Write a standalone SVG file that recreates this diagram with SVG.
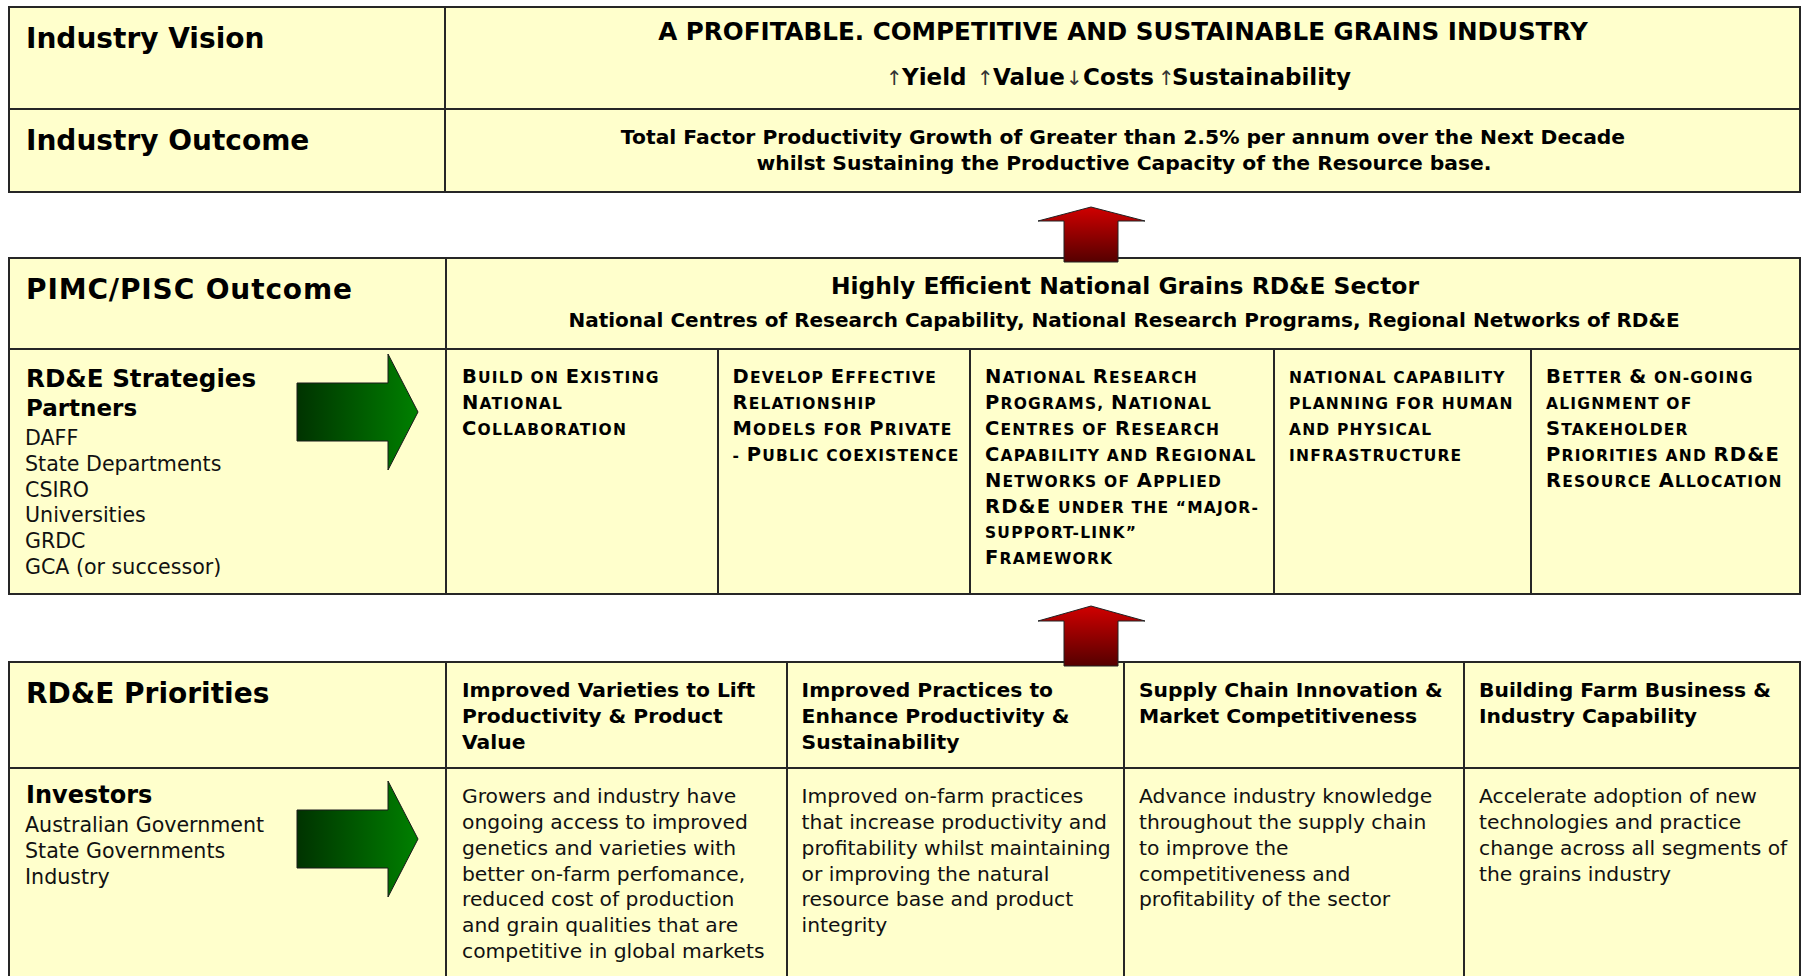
<svg xmlns="http://www.w3.org/2000/svg" width="1806" height="976" viewBox="0 0 1806 976">
<defs>
<linearGradient id="gGreen" x1="0" y1="0" x2="1" y2="0">
<stop offset="0" stop-color="#003300"/>
<stop offset="1" stop-color="#008000"/>
</linearGradient>
<linearGradient id="gRed" x1="0" y1="0" x2="0" y2="1">
<stop offset="0" stop-color="#d00000"/>
<stop offset="1" stop-color="#550000"/>
</linearGradient>
<style>
.cell{fill:#FFFFCC;stroke:#262626;stroke-width:2}
.hd{font-family:"DejaVu Sans",Verdana,sans-serif;font-weight:bold;font-size:28px;fill:#000}
.sub{font-family:"DejaVu Sans",Verdana,sans-serif;font-weight:bold;font-size:24px;fill:#000}
.lst{font-family:"DejaVu Sans",Verdana,sans-serif;font-size:20.6px;fill:#111}
.t{font-family:"DejaVu Sans",Verdana,sans-serif;font-size:20.3px;fill:#111}
.tb{font-family:"DejaVu Sans",Verdana,sans-serif;font-weight:bold;font-size:20.3px;fill:#000}
.ttl{font-family:"DejaVu Sans",Verdana,sans-serif;font-weight:bold;fill:#000;text-anchor:middle}
.kpi{font-family:"DejaVu Sans",Verdana,sans-serif;font-weight:bold;font-size:23px;fill:#000}
.st{font-family:"DejaVu Sans",Verdana,sans-serif;font-weight:bold;font-size:15.5px;letter-spacing:1.2px;fill:#000}
.bc{font-size:19.5px}
.arw{font-weight:normal;font-size:20px;fill:#333}
.gArrow{fill:url(#gGreen);stroke:#1a1a1a;stroke-width:1}
.rArrow{fill:url(#gRed);stroke:#222;stroke-width:1}
</style>
</defs>
<rect x="0" y="0" width="1806" height="976" fill="#ffffff"/>

<!-- Top table -->
<g id="industry-vision-label">
<rect class="cell" x="9" y="7" width="436" height="102"/>
<text class="hd" x="26" y="48">Industry Vision</text>
</g>
<g id="industry-vision">
<rect class="cell" x="445" y="7" width="1355" height="102"/>
<text class="ttl" x="1123" y="40" font-size="24.6">A PROFITABLE. COMPETITIVE AND SUSTAINABLE GRAINS INDUSTRY</text>
<text class="kpi" y="85"><tspan class="arw" x="886">↑</tspan><tspan x="902">Yield</tspan><tspan class="arw" x="977">↑</tspan><tspan x="993">Value</tspan><tspan class="arw" x="1066">↓</tspan><tspan x="1083">Costs</tspan><tspan class="arw" x="1158">↑</tspan><tspan x="1172">Sustainability</tspan></text>
</g>
<g id="industry-outcome-label">
<rect class="cell" x="9" y="109" width="436" height="83"/>
<text class="hd" x="26" y="150">Industry Outcome</text>
</g>
<g id="industry-outcome">
<rect class="cell" x="445" y="109" width="1355" height="83"/>
<text class="ttl" x="1123" y="144" font-size="20.3">Total Factor Productivity Growth of Greater than 2.5% per annum over the Next Decade</text>
<text class="ttl" x="1124" y="169.5" font-size="20.3">whilst Sustaining the Productive Capacity of the Resource base.</text>
</g>

<!-- Middle table -->
<g id="pimc-label">
<rect class="cell" x="9" y="258" width="437" height="91"/>
<text class="hd" x="26" y="299" textLength="326" lengthAdjust="spacing">PIMC/PISC Outcome</text>
</g>
<g id="pimc-outcome">
<rect class="cell" x="446" y="258" width="1354" height="91"/>
<text class="ttl" x="1125" y="293.5" font-size="23.4">Highly Efficient National Grains RD&amp;E Sector</text>
<text class="ttl" x="1124" y="327" font-size="20">National Centres of Research Capability, National Research Programs, Regional Networks of RD&amp;E</text>
</g>
<g id="strategies-label">
<rect class="cell" x="9" y="349" width="437" height="245"/>
<text class="sub" x="26" y="387" style="font-size:24.6px">RD&amp;E Strategies</text>
<text class="sub" x="26" y="415.5" style="font-size:23px">Partners</text>
<text class="lst" x="25"><tspan x="25" y="445">DAFF</tspan><tspan x="25" y="470.8">State Departments</tspan><tspan x="25" y="496.6">CSIRO</tspan><tspan x="25" y="522.4">Universities</tspan><tspan x="25" y="548.2">GRDC</tspan><tspan x="25" y="574">GCA (or successor)</tspan></text>
</g>
<g id="strategy-1">
<rect class="cell" x="446" y="349" width="272" height="245"/>
<text class="st"><tspan x="462" y="383"><tspan class="bc">B</tspan>UILD ON <tspan class="bc">E</tspan>XISTING</tspan><tspan x="462" y="409"><tspan class="bc">N</tspan>ATIONAL</tspan><tspan x="462" y="435"><tspan class="bc">C</tspan>OLLABORATION</tspan></text>
</g>
<g id="strategy-2">
<rect class="cell" x="718" y="349" width="252" height="245"/>
<text class="st"><tspan x="732.5" y="383"><tspan class="bc">D</tspan>EVELOP <tspan class="bc">E</tspan>FFECTIVE</tspan><tspan x="732.5" y="409"><tspan class="bc">R</tspan>ELATIONSHIP</tspan><tspan x="732.5" y="435"><tspan class="bc">M</tspan>ODELS FOR <tspan class="bc">P</tspan>RIVATE</tspan><tspan x="732.5" y="461">- <tspan class="bc">P</tspan>UBLIC COEXISTENCE</tspan></text>
</g>
<g id="strategy-3">
<rect class="cell" x="970" y="349" width="304" height="245"/>
<text class="st"><tspan x="985" y="383"><tspan class="bc">N</tspan>ATIONAL <tspan class="bc">R</tspan>ESEARCH</tspan><tspan x="985" y="409"><tspan class="bc">P</tspan>ROGRAMS, <tspan class="bc">N</tspan>ATIONAL</tspan><tspan x="985" y="435"><tspan class="bc">C</tspan>ENTRES OF <tspan class="bc">R</tspan>ESEARCH</tspan><tspan x="985" y="461"><tspan class="bc">C</tspan>APABILITY AND <tspan class="bc">R</tspan>EGIONAL</tspan><tspan x="985" y="487"><tspan class="bc">N</tspan>ETWORKS OF <tspan class="bc">A</tspan>PPLIED</tspan><tspan x="985" y="512.5"><tspan class="bc">RD&amp;E</tspan> UNDER THE “MAJOR-</tspan><tspan x="985" y="538">SUPPORT-LINK”</tspan><tspan x="985" y="564"><tspan class="bc">F</tspan>RAMEWORK</tspan></text>
</g>
<g id="strategy-4">
<rect class="cell" x="1274" y="349" width="257" height="245"/>
<text class="st"><tspan x="1289" y="383">NATIONAL CAPABILITY</tspan><tspan x="1289" y="409">PLANNING FOR HUMAN</tspan><tspan x="1289" y="435">AND PHYSICAL</tspan><tspan x="1289" y="461">INFRASTRUCTURE</tspan></text>
</g>
<g id="strategy-5">
<rect class="cell" x="1531" y="349" width="269" height="245"/>
<text class="st"><tspan x="1546" y="383"><tspan class="bc">B</tspan>ETTER <tspan class="bc">&amp;</tspan> ON-GOING</tspan><tspan x="1546" y="409">ALIGNMENT OF</tspan><tspan x="1546" y="435"><tspan class="bc">S</tspan>TAKEHOLDER</tspan><tspan x="1546" y="461"><tspan class="bc">P</tspan>RIORITIES AND <tspan class="bc">RD&amp;E</tspan></tspan><tspan x="1546" y="487"><tspan class="bc">R</tspan>ESOURCE <tspan class="bc">A</tspan>LLOCATION</tspan></text>
</g>

<!-- Bottom table -->
<g id="priorities-label">
<rect class="cell" x="9" y="662" width="437" height="106"/>
<text class="hd" x="26" y="703">RD&amp;E Priorities</text>
</g>
<g id="priority-1">
<rect class="cell" x="446" y="662" width="341" height="106"/>
<text class="tb"><tspan x="462" y="697">Improved Varieties to Lift</tspan><tspan x="462" y="722.7">Productivity &amp; Product</tspan><tspan x="462" y="748.5">Value</tspan></text>
</g>
<g id="priority-2">
<rect class="cell" x="787" y="662" width="337" height="106"/>
<text class="tb"><tspan x="801.6" y="697">Improved Practices to</tspan><tspan x="801.6" y="722.7">Enhance Productivity &amp;</tspan><tspan x="801.6" y="748.5">Sustainability</tspan></text>
</g>
<g id="priority-3">
<rect class="cell" x="1124" y="662" width="340" height="106"/>
<text class="tb"><tspan x="1139" y="697">Supply Chain Innovation &amp;</tspan><tspan x="1139" y="722.7">Market Competitiveness</tspan></text>
</g>
<g id="priority-4">
<rect class="cell" x="1464" y="662" width="336" height="106"/>
<text class="tb"><tspan x="1479" y="697">Building Farm Business &amp;</tspan><tspan x="1479" y="722.7">Industry Capability</tspan></text>
</g>
<g id="investors-label">
<rect class="cell" x="9" y="768" width="437" height="222"/>
<text class="sub" x="26" y="803">Investors</text>
<text class="lst"><tspan x="25" y="832">Australian Government</tspan><tspan x="25" y="858">State Governments</tspan><tspan x="25" y="884">Industry</tspan></text>
</g>
<g id="outcome-1">
<rect class="cell" x="446" y="768" width="341" height="222"/>
<text class="t"><tspan x="462" y="803.3">Growers and industry have</tspan><tspan x="462" y="829">ongoing access to improved</tspan><tspan x="462" y="854.8">genetics and varieties with</tspan><tspan x="462" y="880.6">better on-farm perfomance,</tspan><tspan x="462" y="906.3">reduced cost of production</tspan><tspan x="462" y="932.1">and grain qualities that are</tspan><tspan x="462" y="957.8">competitive in global markets</tspan></text>
</g>
<g id="outcome-2">
<rect class="cell" x="787" y="768" width="337" height="222"/>
<text class="t"><tspan x="801.6" y="803.3">Improved on-farm practices</tspan><tspan x="801.6" y="829">that increase productivity and</tspan><tspan x="801.6" y="854.8">profitability whilst maintaining</tspan><tspan x="801.6" y="880.6">or improving the natural</tspan><tspan x="801.6" y="906.3">resource base and product</tspan><tspan x="801.6" y="932.1">integrity</tspan></text>
</g>
<g id="outcome-3">
<rect class="cell" x="1124" y="768" width="340" height="222"/>
<text class="t"><tspan x="1139" y="803.3">Advance industry knowledge</tspan><tspan x="1139" y="829">throughout the supply chain</tspan><tspan x="1139" y="854.8">to improve the</tspan><tspan x="1139" y="880.6">competitiveness and</tspan><tspan x="1139" y="906.3">profitability of the sector</tspan></text>
</g>
<g id="outcome-4">
<rect class="cell" x="1464" y="768" width="336" height="222"/>
<text class="t"><tspan x="1479" y="803.3">Accelerate adoption of new</tspan><tspan x="1479" y="829">technologies and practice</tspan><tspan x="1479" y="854.8">change across all segments of</tspan><tspan x="1479" y="880.6">the grains industry</tspan></text>
</g>

<!-- Connectors -->
<g id="connectors">
<polygon class="rArrow" points="1091,207 1145,221 1118,221 1118,262 1064,262 1064,221 1038,221"/>
<polygon class="rArrow" points="1091,606 1145,621 1118,621 1118,666 1064,666 1064,621 1038,621"/>
<polygon class="gArrow" points="297,383 388,383 388,354 418,412 388,470 388,441 297,441"/>
<polygon class="gArrow" points="297,810 388,810 388,781 418,839 388,897 388,868 297,868"/>
</g>
</svg>
